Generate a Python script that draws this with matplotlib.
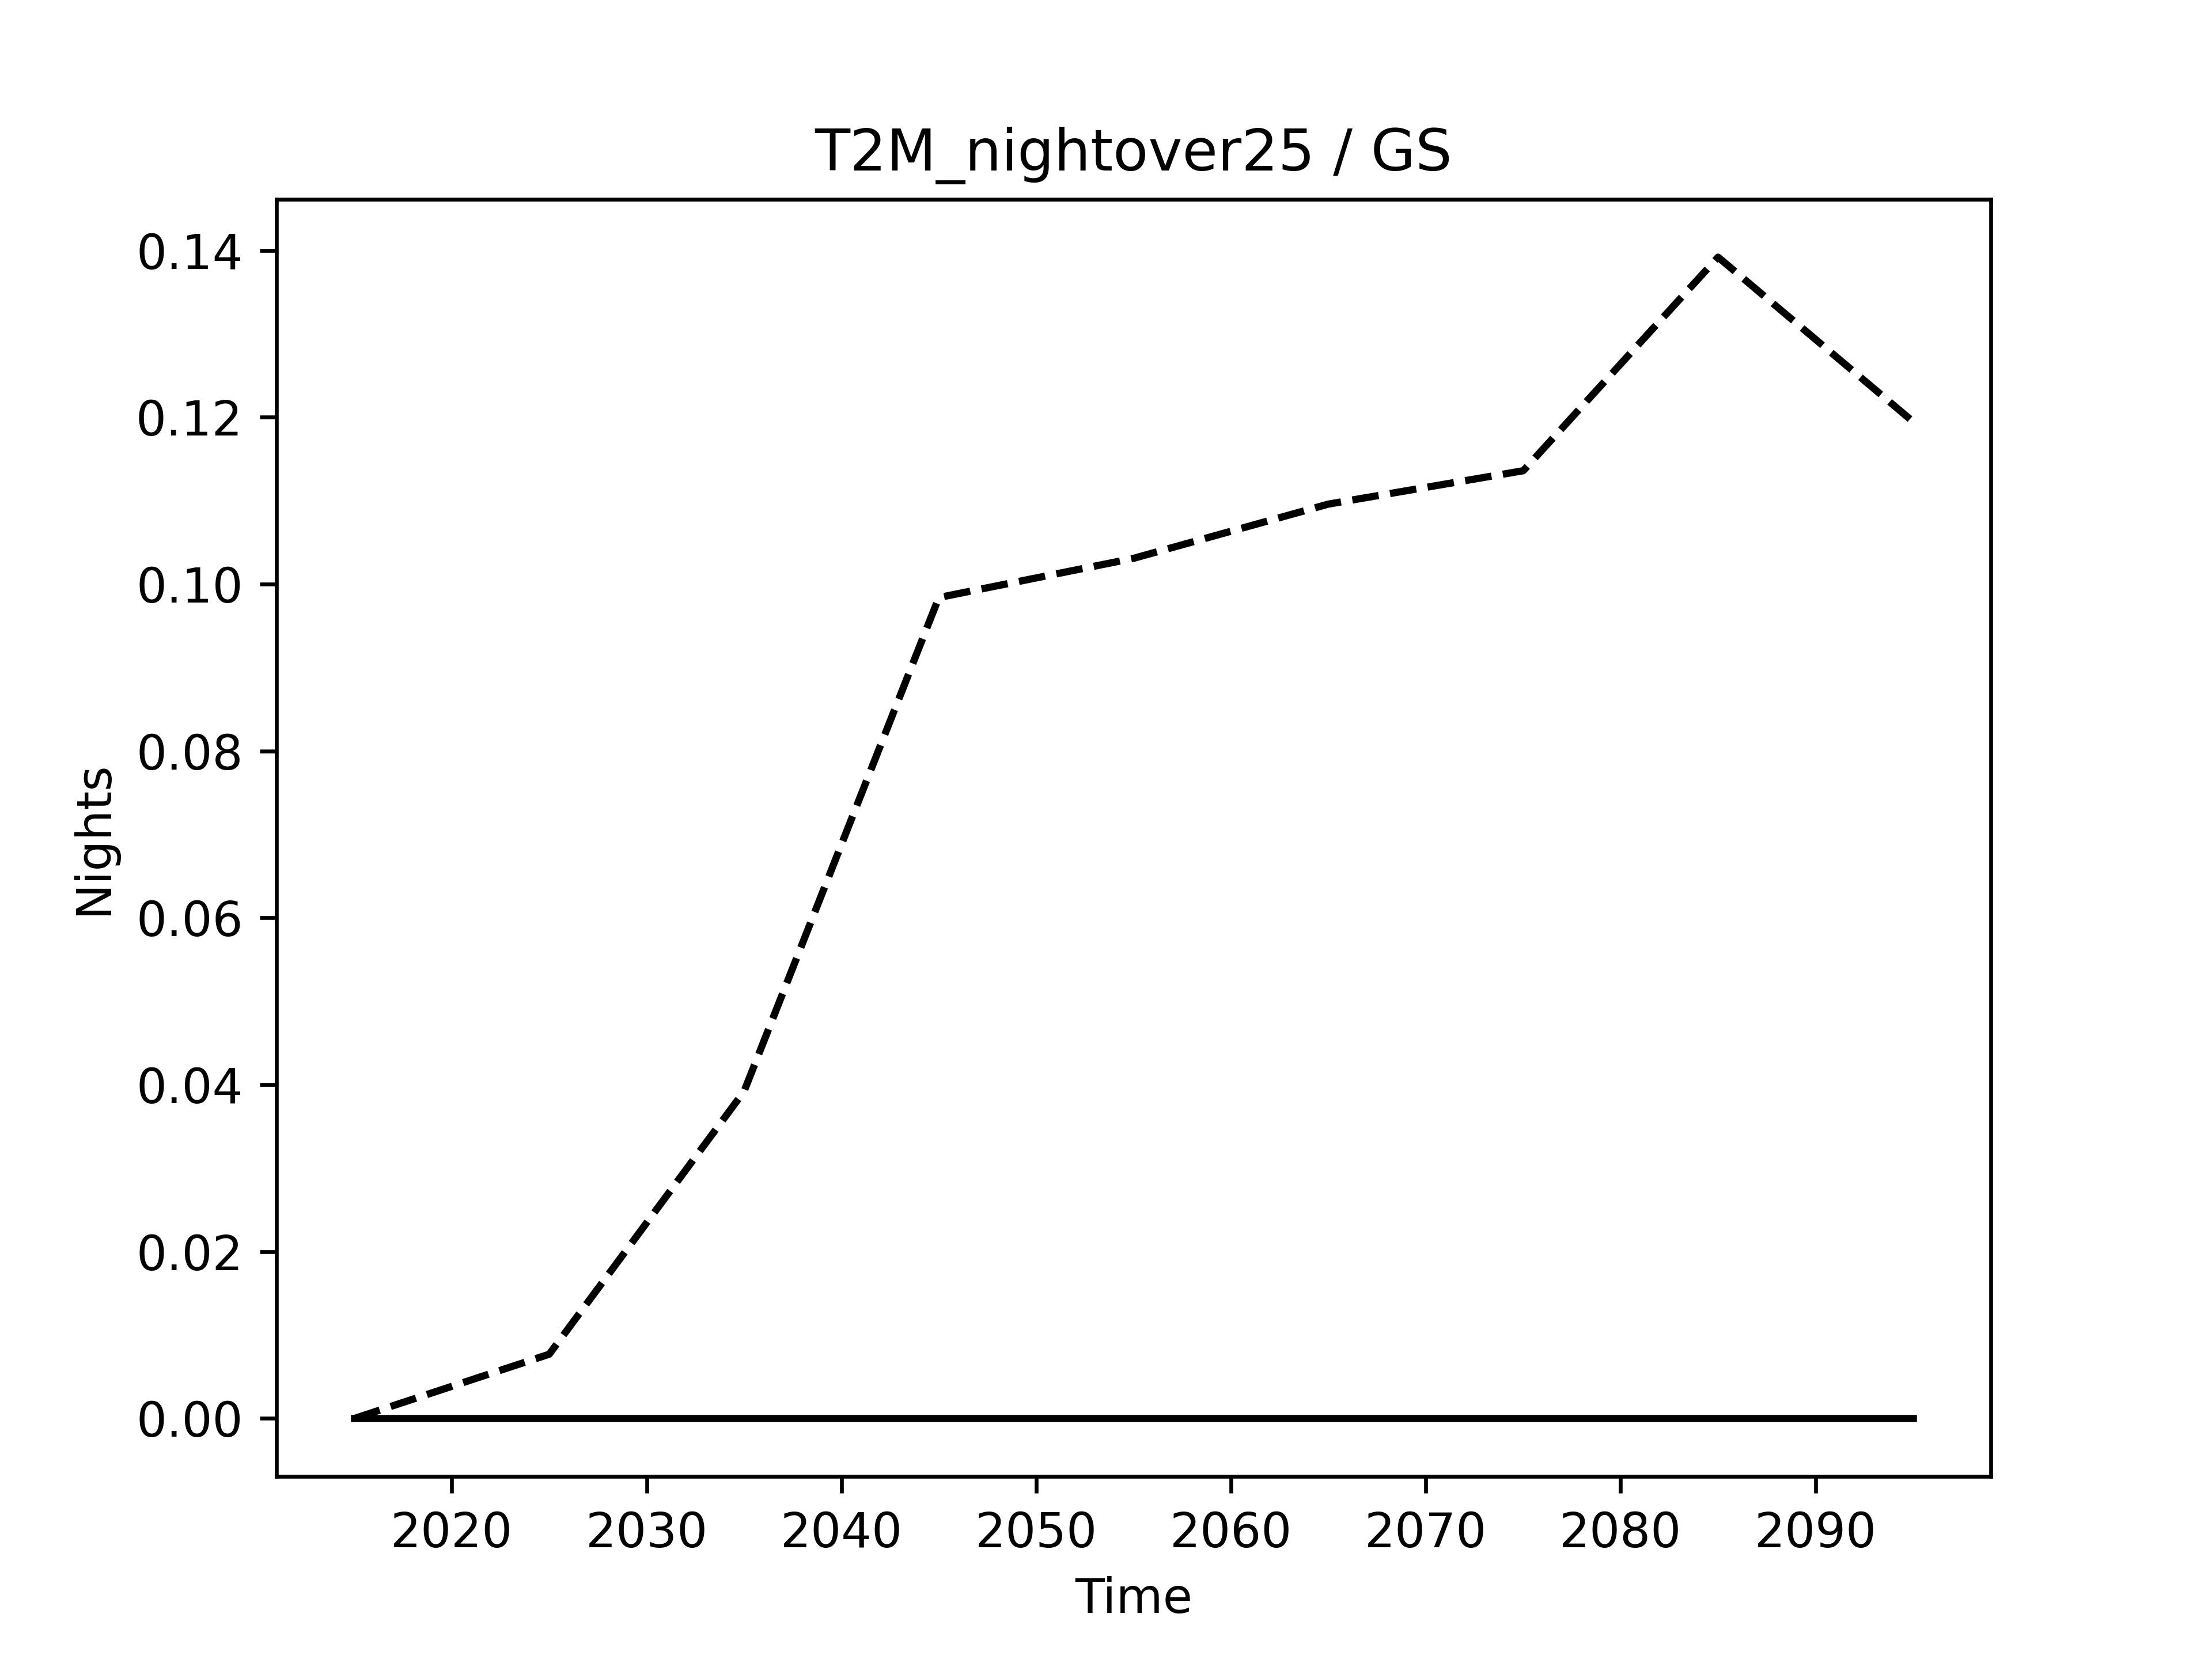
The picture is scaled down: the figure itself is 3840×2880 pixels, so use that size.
import matplotlib
matplotlib.use("Agg")
import matplotlib.pyplot as plt

years = [2015, 2025, 2035, 2045, 2055, 2065, 2075, 2085, 2095]
scenario_dashed = [0.0, 0.0077, 0.0392, 0.0984, 0.1031, 0.1096, 0.1136, 0.1392, 0.1195]
scenario_solid = [0.0, 0.0, 0.0, 0.0, 0.0, 0.0, 0.0, 0.0, 0.0]

fig, ax = plt.subplots(figsize=(6.4, 4.8), dpi=600)
ax.plot(years, scenario_solid, color="k", linestyle="-", linewidth=1.5)
ax.plot(years, scenario_dashed, color="k", linestyle="--", linewidth=1.5)
ax.set_title("T2M_nightover25 / GS")
ax.set_xlabel("Time")
ax.set_ylabel("Nights")
fig.savefig("out.png", dpi=600)
